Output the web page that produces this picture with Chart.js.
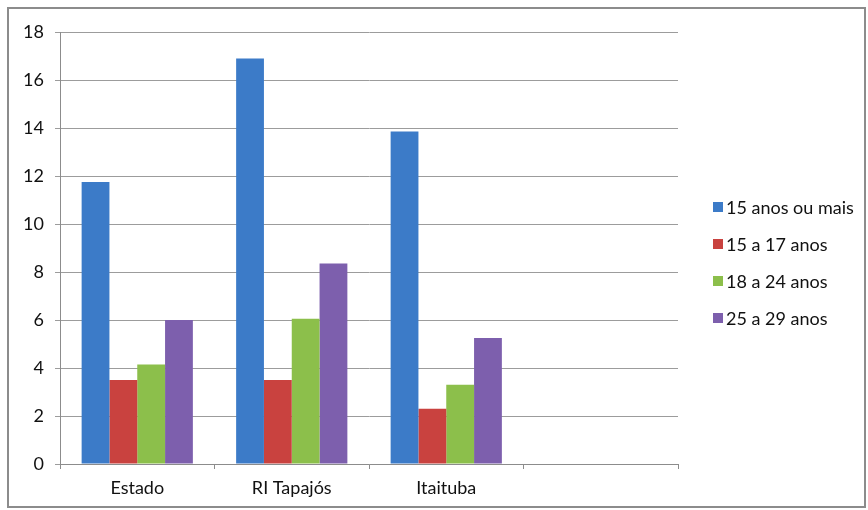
<!DOCTYPE html>
<html>
<head>
<meta charset="utf-8">
<script src="https://cdn.jsdelivr.net/npm/chart.js@4"></script>
<style>
  html, body { margin: 0; padding: 0; background: #fff; }
  #wrap { position: relative; width: 868px; height: 510px; }
</style>
</head>
<body>
<div id="wrap"><canvas id="barChart" width="868" height="510"></canvas></div>
<script>
const categories = ['Estado', 'RI Tapajós', 'Itaituba', ''];
const seriesNames = ['15 anos ou mais', '15 a 17 anos', '18 a 24 anos', '25 a 29 anos'];
const anos15ouMais = [11.75, 16.9, 13.85, null];
const anos15a17 = [3.5, 3.5, 2.3, null];
const anos18a24 = [4.15, 6.05, 3.3, null];
const anos25a29 = [6.0, 8.35, 5.25, null];
const colors = ['#3c7bc8', '#c9423f', '#8cbf4b', '#7d5fad'];

const FONT = 'Lato, "Open Sans", sans-serif';

// frame around the whole picture + legend on the right
const framePlugin = {
    id: 'frame',
    beforeDraw(chart) {
        const ctx = chart.ctx;
        ctx.save();
        ctx.strokeStyle = '#8c8c8c';
        ctx.lineWidth = 2;
        ctx.strokeRect(8, 8, 857, 499);
        ctx.restore();
    },
    afterDraw(chart) {
        const ctx = chart.ctx;
        ctx.save();
        ctx.font = '18px ' + FONT;
        ctx.textBaseline = 'middle';
        chart.data.datasets.forEach((ds, i) => {
            const y = 207 + i * 37;
            ctx.fillStyle = ds.backgroundColor;
            ctx.fillRect(713, y - 5, 10, 10);
            ctx.fillStyle = '#111';
            ctx.fillText(ds.label, 726, y + 1);
        });
        ctx.restore();
    }
};

const seriesData = [anos15ouMais, anos15a17, anos18a24, anos25a29];

new Chart(document.getElementById('barChart'), {
    type: 'bar',
    data: {
        labels: categories,
        datasets: seriesNames.map((name, i) => ({
            label: name,
            data: seriesData[i],
            backgroundColor: colors[i],
            borderWidth: 0,
            categoryPercentage: 0.72,
            barPercentage: 1.0
        }))
    },
    options: {
        responsive: false,
        animation: false,
        layout: { padding: { left: 0, right: 190, top: 32, bottom: 0 } },
        plugins: {
            legend: { display: false },
            tooltip: { enabled: false }
        },
        scales: {
            x: {
                grid: {
                    drawOnChartArea: false,
                    drawTicks: true,
                    tickLength: 5,
                    color: '#8c8c8c'
                },
                border: { color: '#8c8c8c', width: 1 },
                ticks: {
                    padding: 8,
                    color: '#111',
                    font: { family: FONT, size: 18 }
                },
                afterFit(scale) { scale.height = 46; }
            },
            y: {
                min: 0,
                max: 18,
                ticks: {
                    stepSize: 2,
                    padding: 11,
                    color: '#111',
                    font: { family: FONT, size: 18 }
                },
                grid: {
                    color: '#9c9c9c',
                    tickLength: 5
                },
                border: { color: '#8c8c8c', width: 1 },
                afterFit(scale) { scale.width = 60; }
            }
        }
    },
    plugins: [framePlugin]
});
</script>
</body>
</html>
